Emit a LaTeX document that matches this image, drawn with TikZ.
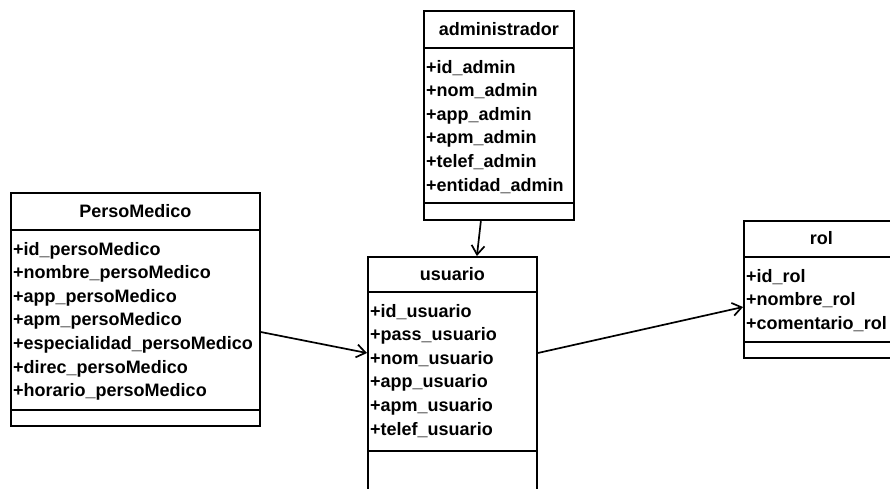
\documentclass[tikz,border=0pt]{standalone}
\usepackage{fontspec}
\setmainfont{Liberation Sans}
\usetikzlibrary{arrows.meta}

\tikzset{
  umlbox/.style={draw, line width=1.8pt, fill=white, inner sep=0pt, anchor=north west},
  rule/.style={line width=1.6pt},
  classtitle/.style={font=\bfseries\fontsize{18}{22}\selectfont, inner sep=0pt},
  attr/.style={font=\bfseries\fontsize{18}{22}\selectfont, anchor=base west, inner sep=0pt},
  link/.style={line width=1.7pt, -{Straight Barb[length=9pt,width=13pt,line width=1.7pt]}}
}

% \umlclass{name}{left}{top}{right}{bottom}{header rule y}{operations rule y}{title}{attributes}
\newcommand{\umlclass}[9]{%
  \node[umlbox, minimum width={#4-#2}, minimum height={#5-#3}] (#1) at (#2,#3) {};
  \draw[rule] ([yshift={#3-#6}]#1.north west) -- ([yshift={#3-#6}]#1.north east);
  \draw[rule] ([yshift={#3-#7}]#1.north west) -- ([yshift={#3-#7}]#1.north east);
  \node[classtitle] (#1-title) at ([yshift={(#3-#6)/2}]#1.north) {#8};
  \foreach \a [count=\i] in {#9}
    \node[attr] (#1-\i) at ([xshift=3, yshift={#3-#6-25-(\i-1)*23.6}]#1.north west) {\a};
}

\begin{document}
\begin{tikzpicture}[x=1pt, y=-1pt]
  \useasboundingbox (0,0) rectangle (890,488);
  \fill[white] (0,0) rectangle (890,488);
  \clip (0,0) rectangle (890,488);

  \umlclass{admin}{423}{10}{573}{219}{48}{203}{administrador}
    {+id\_admin, +nom\_admin, +app\_admin, +apm\_admin, +telef\_admin, +entidad\_admin}

  \umlclass{perso}{10}{192}{259}{425}{230}{410}{PersoMedico}
    {+id\_persoMedico, +nombre\_persoMedico, +app\_persoMedico, +apm\_persoMedico,
     +especialidad\_persoMedico, +direc\_persoMedico, +horario\_persoMedico}

  \umlclass{usuario}{367}{256}{536}{530}{292}{451}{usuario}
    {+id\_usuario, +pass\_usuario, +nom\_usuario, +app\_usuario, +apm\_usuario, +telef\_usuario}

  \umlclass{rol}{743}{220}{898}{357}{257}{342}{rol}
    {+id\_rol, +nombre\_rol, +comentario\_rol}

  % associations
  \draw[link] ([xshift=-18]admin.south) -- ([xshift=24.5]usuario.north);
  \draw[link] ([yshift=-140]perso.north east) -- ([yshift=-97]usuario.north west);
  \draw[link] ([yshift=-97]usuario.north east) -- ([yshift=-87]rol.north west);
\end{tikzpicture}
\end{document}
